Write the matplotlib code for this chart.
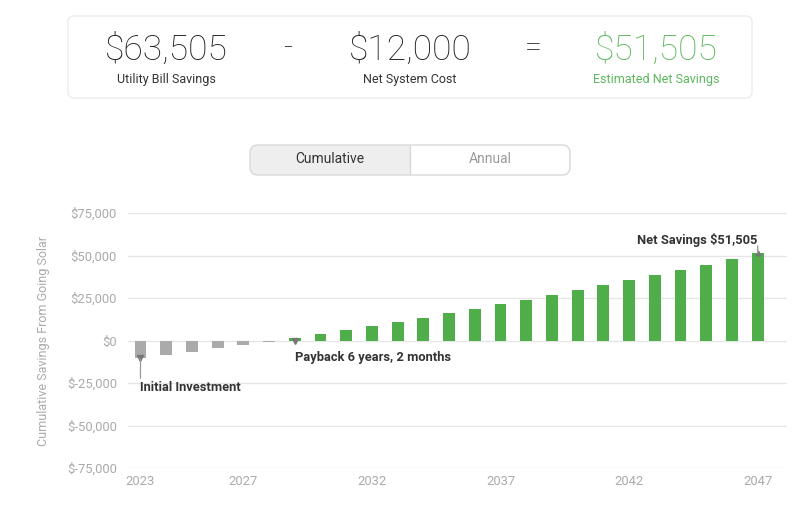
import matplotlib
matplotlib.use("Agg")
import matplotlib.pyplot as plt
from matplotlib.patches import FancyBboxPatch, Rectangle
from matplotlib.transforms import IdentityTransform
from matplotlib.ticker import FuncFormatter

# ---------------- data ----------------
years = [2023, 2024, 2025, 2026, 2027, 2028, 2029, 2030, 2031, 2032, 2033, 2034,
         2035, 2036, 2037, 2038, 2039, 2040, 2041, 2042, 2043, 2044, 2045, 2046, 2047]
cumulative = [-10400, -8400, -6600, -4600, -2500, -600, 1600, 3900, 6100, 8400,
              10800, 13300, 15900, 18600, 21200, 23900, 26700, 29600, 32500, 35500,
              38400, 41600, 44700, 48000, 51505]
xtick_years = [2023, 2027, 2032, 2037, 2042, 2047]
ytick_values = [-75000, -50000, -25000, 0, 25000, 50000, 75000]

summary_values = ["$63,505", "$12,000", "$51,505"]
summary_labels = ["Utility Bill Savings", "Net System Cost", "Estimated Net Savings"]
operators = ["-", "="]
toggle_labels = ["Cumulative", "Annual"]
payback_year = 2029
payback_text = "Payback 6 years, 2 months"
initial_text = "Initial Investment"
net_text = "Net Savings $51,505"
ylabel = "Cumulative Savings From Going Solar"

# ---------------- figure ----------------
W, H = 800, 507
fig = plt.figure(figsize=(W / 100, H / 100), dpi=100)
fig.patch.set_facecolor("white")

def fx(px):
    return px / W

def fy(py):
    return 1 - py / H

GREEN = "#4fae4a"
GREEN_TXT = "#5cb85c"
GRAY_BAR = "#aaaaaa"
DARK = "#222222"

# top summary card
card = FancyBboxPatch((68, H - 98), 684, 82, boxstyle="round,pad=0,rounding_size=6",
                      transform=IdentityTransform(), facecolor="white",
                      edgecolor="#ececec", linewidth=1.0)
fig.patches.append(card)

num_x = [166, 410, 656]
op_x = [288, 533]
num_colors = [DARK, DARK, GREEN_TXT]
lab_colors = ["#333333", "#333333", GREEN_TXT]
for x, v, l, c, lc in zip(num_x, summary_values, summary_labels, num_colors, lab_colors):
    fig.text(fx(x), fy(50), v, ha="center", va="center", fontsize=25.5,
             family="Roboto", fontweight="light", color=c)
    fig.text(fx(x), fy(79), l, ha="center", va="center", fontsize=9,
             family="Roboto", color=lc)
for x, o in zip(op_x, operators):
    fig.text(fx(x), fy(49), o, ha="center", va="center", fontsize=22,
             family="Roboto", fontweight="light", color=DARK)

# toggle
tx0, tx1, tmid, ty0, ty1 = 250, 570, 410, 145, 175
fig.patches.append(FancyBboxPatch((tx0, H - ty1), tx1 - tx0, ty1 - ty0,
                                  boxstyle="round,pad=0,rounding_size=8",
                                  transform=IdentityTransform(), facecolor="#eeeeee",
                                  edgecolor="none"))
fig.patches.append(FancyBboxPatch((tmid, H - ty1), tx1 - tmid, ty1 - ty0,
                                  boxstyle="round,pad=0,rounding_size=8",
                                  transform=IdentityTransform(), facecolor="white",
                                  edgecolor="none"))
fig.patches.append(Rectangle((tmid, H - ty1), 12, ty1 - ty0,
                             transform=IdentityTransform(), facecolor="white",
                             edgecolor="none"))
fig.patches.append(FancyBboxPatch((tx0, H - ty1), tx1 - tx0, ty1 - ty0,
                                  boxstyle="round,pad=0,rounding_size=8",
                                  transform=IdentityTransform(), facecolor="none",
                                  edgecolor="#d9d9d9", linewidth=1.0))
fig.patches.append(Rectangle((tmid, H - ty1), 0, ty1 - ty0,
                             transform=IdentityTransform(), facecolor="none",
                             edgecolor="#d9d9d9", linewidth=1.0))
fig.text(fx((tx0 + tmid) / 2), fy(159.5), toggle_labels[0], ha="center", va="center",
         fontsize=10, family="Roboto", color="#333333")
fig.text(fx((tmid + tx1) / 2), fy(159.5), toggle_labels[1], ha="center", va="center",
         fontsize=10, family="Roboto", color="#999999")

# ---------------- chart ----------------
ax_left, ax_right, ax_top, ax_bottom = 128, 787, 213, 468
ax = fig.add_axes([fx(ax_left), fy(ax_bottom), (ax_right - ax_left) / W,
                   (ax_bottom - ax_top) / H])
ax.set_xlim(2022.515, 2048.14)
ax.set_ylim(-75000, 75000)

colors = [GRAY_BAR if v < 0 else GREEN for v in cumulative]
ax.bar(years, cumulative, width=0.46, color=colors, zorder=3)

ax.set_yticks(ytick_values)
ax.yaxis.set_major_formatter(FuncFormatter(
    lambda v, p: "$0" if v == 0 else ("$-" if v < 0 else "$") + f"{abs(int(v)):,}"))
ax.set_xticks(xtick_years)
ax.set_xticklabels([str(y) for y in xtick_years])
ax.tick_params(axis="both", length=0, labelsize=9.4, labelcolor="#aaaaaa")
ax.tick_params(axis="y", pad=8)
ax.tick_params(axis="x", pad=5.3)
for lab in ax.get_xticklabels() + ax.get_yticklabels():
    lab.set_family("Roboto")
ax.grid(axis="y", color="#e6e6e6", linewidth=1.0, zorder=0)
ax.grid(axis="x", visible=False)
for s in ax.spines.values():
    s.set_visible(False)
ax.set_ylabel(ylabel, fontsize=9, color="#aaaaaa", family="Roboto", labelpad=12)

# annotations
ann_kw = dict(fontsize=9.3, fontweight="bold", color="#333333", family="Roboto")
line_kw = dict(arrowstyle="-", color="#999999", lw=0.9, shrinkA=0, shrinkB=0)

# initial investment
ax.plot(years[0], cumulative[0], marker="v", color="#777777", markersize=4, zorder=4)
ax.annotate("", xy=(years[0], cumulative[0]), xytext=(0, -20),
            textcoords="offset pixels", arrowprops=line_kw, zorder=4)
ax.annotate(initial_text, xy=(years[0], cumulative[0]), xytext=(0, -29),
            textcoords="offset pixels", ha="left", va="center", **ann_kw)

# payback
ax.plot(payback_year, 0, marker="v", color="#777777", markersize=4, zorder=4)
ax.annotate(payback_text, xy=(payback_year, 0), xytext=(0, -16.5),
            textcoords="offset pixels", ha="left", va="center", **ann_kw)

# net savings
ax.plot(years[-1], cumulative[-1], marker="^", color="#777777", markersize=3.5, zorder=4)
ax.annotate("", xy=(years[-1], cumulative[-1]), xytext=(0, 7),
            textcoords="offset pixels", arrowprops=line_kw, zorder=4)
ax.annotate(net_text, xy=(years[-1], cumulative[-1]), xytext=(0, 13),
            textcoords="offset pixels", ha="right", va="center", **ann_kw)

fig.savefig("out.png", dpi=100, facecolor="white")
